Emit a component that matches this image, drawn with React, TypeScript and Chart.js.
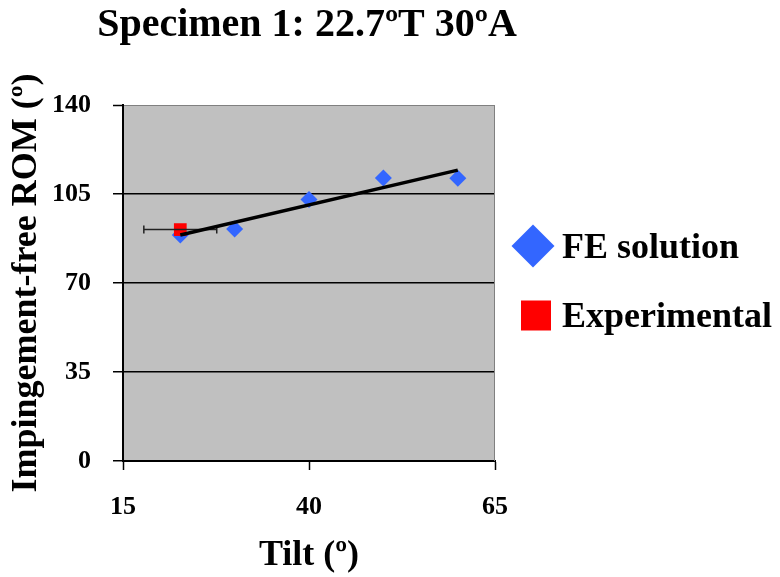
import React, { useEffect, useRef } from "react";
import { Chart, registerables } from "chart.js";

Chart.register(...registerables);

// ---- Data ----
const TITLE = "Specimen 1: 22.7ºT 30ºA";
const X_TITLE = "Tilt (º)";
const Y_TITLE = "Impingement-free ROM (º)";
const FE_LABEL = "FE solution";
const EXP_LABEL = "Experimental";

const FE_TILT = [22.7, 30, 40, 50, 60];
const FE_ROM = [88.9, 91.2, 102.8, 111.3, 111.2];

const EXP_TILT = [22.7];
const EXP_ROM = [91.0];
const EXP_TILT_ERR = [4.9];

const X_MIN = 15;
const X_MAX = 65;
const X_STEP = 25;
const Y_MIN = 0;
const Y_MAX = 140;
const Y_STEP = 35;

// ---- Styles ----
const FONT = "'Liberation Serif', 'Times New Roman', serif";
const FE_COLOR = "#3366FF";
const EXP_COLOR = "#FF0000";
const PLOT_BG = "#C0C0C0";

function linearFit(xs: number[], ys: number[]) {
  const n = xs.length;
  const mx = xs.reduce((a, b) => a + b, 0) / n;
  const my = ys.reduce((a, b) => a + b, 0) / n;
  let sxy = 0;
  let sxx = 0;
  for (let i = 0; i < n; i++) {
    sxy += (xs[i] - mx) * (ys[i] - my);
    sxx += (xs[i] - mx) * (xs[i] - mx);
  }
  const b = sxy / sxx;
  const a = my - b * mx;
  const x0 = Math.min(...xs);
  const x1 = Math.max(...xs);
  return [
    { x: x0, y: a + b * x0 },
    { x: x1, y: a + b * x1 },
  ];
}

const plotBgPlugin = {
  id: "plotBg",
  beforeDraw(chart: any) {
    const { ctx, chartArea } = chart;
    ctx.save();
    ctx.fillStyle = PLOT_BG;
    ctx.fillRect(chartArea.left, chartArea.top, chartArea.right - chartArea.left, chartArea.bottom - chartArea.top);
    ctx.restore();
  },
  beforeDatasetsDraw(chart: any) {
    const { ctx, chartArea } = chart;
    ctx.save();
    ctx.strokeStyle = "#808080";
    ctx.lineWidth = 1;
    ctx.beginPath();
    ctx.moveTo(chartArea.right - 0.5, chartArea.top);
    ctx.lineTo(chartArea.right - 0.5, chartArea.bottom);
    ctx.stroke();
    ctx.restore();
  },
};

const titlePlugin = {
  id: "centeredTitle",
  afterDraw(chart: any) {
    const { ctx, chartArea } = chart;
    ctx.save();
    ctx.font = `bold 40px ${FONT}`;
    ctx.fillStyle = "#000";
    ctx.textAlign = "center";
    ctx.textBaseline = "middle";
    ctx.fillText(TITLE, (chartArea.left + chartArea.right) / 2 - 2, 25.5);
    ctx.restore();
  },
};

const errorBarPlugin = {
  id: "errorBars",
  afterDatasetDraw(chart: any, args: any) {
    if (args.index !== 1) return;
    const { ctx } = chart;
    const xs = chart.scales.x;
    const ys = chart.scales.y;
    ctx.save();
    ctx.strokeStyle = "#222";
    ctx.lineWidth = 1.5;
    for (let i = 0; i < EXP_TILT.length; i++) {
      const y = ys.getPixelForValue(EXP_ROM[i]);
      const xl = xs.getPixelForValue(EXP_TILT[i] - EXP_TILT_ERR[i]);
      const xr = xs.getPixelForValue(EXP_TILT[i] + EXP_TILT_ERR[i]);
      ctx.beginPath();
      ctx.moveTo(xl, y);
      ctx.lineTo(xr, y);
      ctx.moveTo(xl, y - 4);
      ctx.lineTo(xl, y + 4);
      ctx.moveTo(xr, y - 4);
      ctx.lineTo(xr, y + 4);
      ctx.stroke();
    }
    ctx.restore();
  },
};

const sideLegendPlugin = {
  id: "sideLegend",
  afterDraw(chart: any) {
    const { ctx, chartArea } = chart;
    const left = chartArea.right;
    ctx.save();
    ctx.font = `bold 36px ${FONT}`;
    ctx.fillStyle = "#000";
    ctx.textAlign = "left";
    ctx.textBaseline = "alphabetic";

    // FE solution diamond
    const dx = left + 38;
    const dy = 246;
    const r = 21.5;
    ctx.fillStyle = FE_COLOR;
    ctx.beginPath();
    ctx.moveTo(dx - r, dy);
    ctx.lineTo(dx, dy - r);
    ctx.lineTo(dx + r, dy);
    ctx.lineTo(dx, dy + r);
    ctx.closePath();
    ctx.fill();
    ctx.fillStyle = "#000";
    ctx.fillText(chart.data.datasets[2].label, left + 67, 258);

    // Experimental square
    const sx = left + 41;
    const sy = 315.5;
    const s = 15;
    ctx.fillStyle = EXP_COLOR;
    ctx.fillRect(sx - s, sy - s, 2 * s, 2 * s);
    ctx.fillStyle = "#000";
    ctx.fillText(chart.data.datasets[1].label, left + 67, 327);
    ctx.restore();
  },
};

export default function App() {
  const canvasRef = useRef<HTMLCanvasElement | null>(null);

  useEffect(() => {
    const canvas = canvasRef.current;
    if (!canvas) return;
    const trend = linearFit(FE_TILT, FE_ROM);

    const chart = new Chart(canvas, {
      type: "scatter",
      data: {
        datasets: [
          {
            type: "line",
            label: "Linear (FE solution)",
            data: trend,
            borderColor: "#000",
            borderWidth: 3.5,
            pointRadius: 0,
            fill: false,
            order: 0,
          } as any,
          {
            label: EXP_LABEL,
            data: EXP_TILT.map((x, i) => ({ x, y: EXP_ROM[i] })),
            pointStyle: "rect",
            pointRadius: 9,
            backgroundColor: EXP_COLOR,
            borderWidth: 0,
            order: 1,
          },
          {
            label: FE_LABEL,
            data: FE_TILT.map((x, i) => ({ x, y: FE_ROM[i] })),
            pointStyle: "rectRot",
            pointRadius: 8.5,
            backgroundColor: FE_COLOR,
            borderWidth: 0,
            order: 2,
          },
        ],
      },
      options: {
        responsive: false,
        animation: false,
        events: [],
        layout: { padding: { left: 0, right: 285, top: 105, bottom: 0 } },
        plugins: {
          legend: { display: false },
          tooltip: { enabled: false },
          title: { display: false },
        },
        scales: {
          x: {
            type: "linear",
            min: X_MIN,
            max: X_MAX,
            afterFit: (scale: any) => {
              scale.height = 116;
            },
            ticks: {
              stepSize: X_STEP,
              color: "#000",
              padding: 21.5,
              maxRotation: 0,
              font: { family: FONT, size: 26, weight: "bold" },
            },
            grid: {
              drawOnChartArea: false,
              drawTicks: true,
              tickLength: 9,
              color: "#000",
              tickColor: "#000",
              tickWidth: 1.5,
            },
            border: { color: "#000", width: 2 },
            title: {
              display: true,
              text: X_TITLE,
              color: "#000",
              font: { family: FONT, size: 36, weight: "bold" },
              padding: { top: 0, bottom: 0 },
            },
          },
          y: {
            type: "linear",
            min: Y_MIN,
            max: Y_MAX,
            afterFit: (scale: any) => {
              scale.width = 123;
            },
            ticks: {
              stepSize: Y_STEP,
              color: "#000",
              padding: 22,
              crossAlign: "near",
              font: { family: FONT, size: 26, weight: "bold" },
            },
            grid: {
              color: (ctx: any) => (ctx.tick && ctx.tick.value === Y_MAX ? "#808080" : "#000"),
              lineWidth: (ctx: any) => (ctx.tick && ctx.tick.value === Y_MAX ? 1 : 1.5),
              drawTicks: true,
              tickLength: 10,
              tickColor: "#000",
              tickWidth: 1.5,
            },
            border: { color: "#000", width: 2 },
            title: {
              display: true,
              text: Y_TITLE,
              color: "#000",
              font: { family: FONT, size: 36, weight: "bold" },
              padding: { top: 5, bottom: 0 },
            },
          },
        },
      },
      plugins: [plotBgPlugin, errorBarPlugin, sideLegendPlugin, titlePlugin],
    });

    return () => chart.destroy();
  }, []);

  return (
    <div style={{ position: "absolute", left: 0, top: 0, width: 780, height: 577, background: "#fff" }}>
      <canvas ref={canvasRef} width={780} height={577} style={{ display: "block" }} />
    </div>
  );
}
